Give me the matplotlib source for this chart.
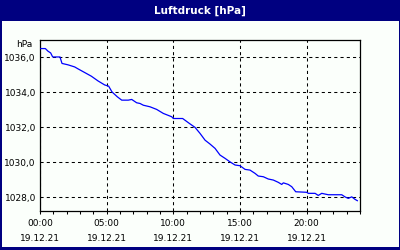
import matplotlib
matplotlib.use("Agg")
import matplotlib.pyplot as plt
from matplotlib.patches import Rectangle

# hours since 19.12.21 00:00
hours = [0.05, 0.4, 0.6, 0.8, 0.95, 1.5, 1.65, 2.1, 2.6, 2.85, 3.35, 3.85, 4.35, 4.85,
         5.15, 5.4, 5.8, 6.13, 6.62, 6.88, 7.25, 7.5, 7.75, 8.25, 8.75, 9.25, 9.88,
         10.0, 10.7, 11.2, 11.63, 12.0, 12.38, 12.75, 13.13, 13.5, 13.88, 14.25, 14.63,
         15.0, 15.38, 15.75, 16.13, 16.37, 16.75, 17.12, 17.5, 17.87, 18.13, 18.25,
         18.62, 18.88, 19.18, 20.0, 20.12, 20.63, 20.87, 21.13, 21.62, 22.63, 22.87,
         23.12, 23.38, 23.62, 23.8]
pressure = [1036.51, 1036.51, 1036.36, 1036.26, 1036.03, 1036.03, 1035.66, 1035.58,
            1035.46, 1035.35, 1035.14, 1034.93, 1034.66, 1034.43, 1034.36, 1034.03,
            1033.75, 1033.56, 1033.56, 1033.60, 1033.41, 1033.37, 1033.27, 1033.18,
            1033.03, 1032.80, 1032.61, 1032.51, 1032.51, 1032.23, 1032.00, 1031.66,
            1031.27, 1031.05, 1030.80, 1030.42, 1030.23, 1030.03, 1029.85, 1029.81,
            1029.60, 1029.56, 1029.37, 1029.22, 1029.18, 1029.05, 1028.99, 1028.86,
            1028.74, 1028.83, 1028.74, 1028.61, 1028.32, 1028.29, 1028.23, 1028.23,
            1028.11, 1028.23, 1028.15, 1028.15, 1028.03, 1027.94, 1028.03, 1027.89,
            1027.81]

xticks = [0, 5, 10, 15, 20]
xticklabels = ["00:00\n19.12.21", "05:00\n19.12.21", "10:00\n19.12.21",
               "15:00\n19.12.21", "20:00\n19.12.21"]
yticks = [1028, 1030, 1032, 1034, 1036]
yticklabels = ["1028,0", "1030,0", "1032,0", "1034,0", "1036,0"]

W, H = 400, 250
bg = "#fbfffb"
navy = "#000080"

fig = plt.figure(figsize=(4, 2.5), dpi=100, facecolor=navy)
fig.patches.append(Rectangle((2 / W, 3 / H), (W - 3) / W, (H - 24) / H,
                             transform=fig.transFigure, facecolor=bg,
                             edgecolor="none", zorder=-10))
fig.text(0.5, 1 - 10.5 / H, "Luftdruck [hPa]", color="white", fontsize=7.5,
         fontweight="bold", ha="center", va="center")
fig.text(16 / W, 1 - 45 / H, "hPa", fontsize=6.5, ha="left", va="center")

ax = fig.add_axes([40 / W, 1 - 211 / H, 320 / W, 171 / H])
ax.set_zorder(5)
ax.set_facecolor(bg)
ax.plot(hours, pressure, color="#0000ff", lw=0.9, zorder=3)

ax.set_xlim(0, 24)
ax.set_ylim(1027.22, 1037.0)
ax.set_xticks(xticks)
ax.set_xticklabels(xticklabels, fontsize=6.5, linespacing=1.75)
ax.set_xticks(range(0, 25), minor=True)
ax.set_yticks(yticks)
ax.set_yticklabels(yticklabels, fontsize=6.5)
ax.tick_params(axis="x", which="both", direction="out", length=2.5, width=0.75,
               pad=3.5, colors="black")
ax.tick_params(axis="y", length=0, pad=3)
ax.grid(True, color="black", lw=0.75, linestyle=(0, (3, 3)))
for s in ax.spines.values():
    s.set_linewidth(0.9)
    s.set_color("black")

fig.savefig("out.png", dpi=100, facecolor=navy)
